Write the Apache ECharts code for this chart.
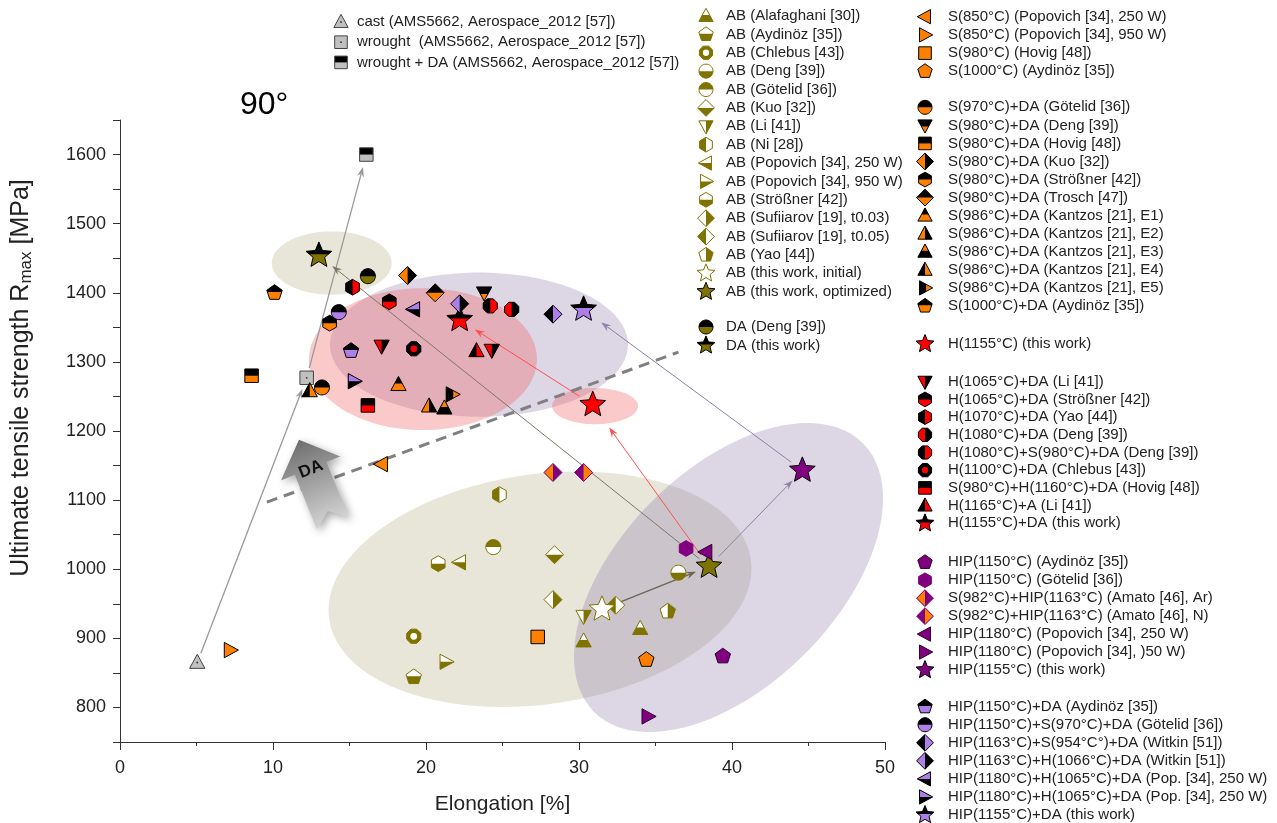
<!DOCTYPE html>
<html>
<head>
<meta charset="utf-8">
<title>Ultimate tensile strength vs. elongation, 90°</title>
<script src="https://cdn.jsdelivr.net/npm/echarts@6/dist/echarts.min.js"></script>
<style>
  html, body { margin: 0; padding: 0; background: #fff; }
  #chart { width: 1277px; height: 823px; }
</style>
</head>
<body>
<div id="chart"></div>
<script>
// ---------------------------------------------------------------
// Data: elongation [%] and ultimate tensile strength [MPa]
// ---------------------------------------------------------------
const xTickLabels = [0, 10, 20, 30, 40, 50];
const yTickLabels = [800, 900, 1000, 1100, 1200, 1300, 1400, 1500, 1600];

const refNames = ['cast (AMS5662, Aerospace_2012 [57])', 'wrought  (AMS5662, Aerospace_2012 [57])', 'wrought + DA (AMS5662, Aerospace_2012 [57])'];
const refValues = [[[5.05, 865]], [[12.2, 1277]], [[16.1, 1600]]];

const abNames = ['AB (Alafaghani [30])', 'AB (Aydinöz [35])', 'AB (Chlebus [43])', 'AB (Deng [39])', 'AB (Götelid [36])', 'AB (Kuo [32])', 'AB (Li [41])', 'AB (Ni [28])', 'AB (Popovich [34], 250 W)', 'AB (Popovich [34], 950 W)', 'AB (Strößner [42])', 'AB (Sufiiarov [19], t0.03)', 'AB (Sufiiarov [19], t0.05)', 'AB (Yao [44])', 'AB (this work, initial)', 'AB (this work, optimized)'];
const abValues = [[[34.0, 914], [30.3, 896]], [[19.2, 844]], [[19.2, 903]], [[36.5, 995]], [[24.4, 1032]], [[28.4, 1021]], [[30.3, 932]], [[24.8, 1108]], [[22.2, 1010]], [[21.3, 866]], [[20.8, 1008]], [[28.3, 956]], [[32.4, 948]], [[35.8, 939]], [[31.5, 942]], [[38.5, 1004]]];

const daNames = ['DA (Deng [39])', 'DA (this work)'];
const daValues = [[[16.2, 1424]], [[13.0, 1454]]];

const sNames = ['S(850°C) (Popovich [34], 250 W)', 'S(850°C) (Popovich [34], 950 W)', 'S(980°C) (Hovig [48])', 'S(1000°C) (Aydinöz [35])'];
const sValues = [[[17.1, 1152]], [[7.2, 883]], [[27.3, 902]], [[34.4, 869]]];

const sdaNames = ['S(970°C)+DA (Götelid [36])', 'S(980°C)+DA (Deng [39])', 'S(980°C)+DA (Hovig [48])', 'S(980°C)+DA (Kuo [32])', 'S(980°C)+DA (Strößner [42])', 'S(980°C)+DA (Trosch [47])', 'S(986°C)+DA (Kantzos [21], E1)', 'S(986°C)+DA (Kantzos [21], E2)', 'S(986°C)+DA (Kantzos [21], E3)', 'S(986°C)+DA (Kantzos [21], E4)', 'S(986°C)+DA (Kantzos [21], E5)', 'S(1000°C)+DA (Aydinöz [35])'];
const sdaValues = [[[13.2, 1263]], [[23.8, 1400]], [[8.6, 1280]], [[18.8, 1425]], [[13.7, 1356]], [[20.6, 1400]], [[18.2, 1267]], [[20.2, 1236]], [[21.2, 1233]], [[12.4, 1258]], [[21.7, 1253]], [[10.1, 1400]]];

const hNames = ['H(1155°C) (this work)'];
const hValues = [[[30.9, 1238]]];

const hdaNames = ['H(1065°C)+DA (Li [41])', 'H(1065°C)+DA (Strößner [42])', 'H(1070°C)+DA (Yao [44])', 'H(1080°C)+DA (Deng [39])', 'H(1080°C)+S(980°C)+DA (Deng [39])', 'H(1100°C)+DA (Chlebus [43])', 'S(980°C)+H(1160°C)+DA (Hovig [48])', 'H(1165°C)+A (Li [41])', 'H(1155°C)+DA (this work)'];
const hdaValues = [[[17.1, 1323], [24.3, 1317]], [[17.6, 1387]], [[15.2, 1408]], [[25.6, 1376]], [[24.2, 1381]], [[19.2, 1319]], [[16.2, 1237]], [[23.3, 1316]], [[22.2, 1361]]];

const hipNames = ['HIP(1150°C) (Aydinöz [35])', 'HIP(1150°C) (Götelid [36])', 'S(982°C)+HIP(1163°C) (Amato [46], Ar)', 'S(982°C)+HIP(1163°C) (Amato [46], N)', 'HIP(1180°C) (Popovich [34], 250 W)', 'HIP(1180°C) (Popovich [34], )50 W)', 'HIP(1155°C) (this work)'];
const hipValues = [[[39.4, 874]], [[37.0, 1030]], [[28.3, 1140]], [[30.3, 1140]], [[38.3, 1025]], [[34.5, 787]], [[44.6, 1143]]];

const hipdaNames = ['HIP(1150°C)+DA (Aydinöz [35])', 'HIP(1150°C)+S(970°C)+DA (Götelid [36])', 'HIP(1163°C)+S(954°C°)+DA (Witkin [51])', 'HIP(1163°C)+H(1066°C)+DA (Witkin [51])', 'HIP(1180°C)+H(1065°C)+DA (Pop. [34], 250 W)', 'HIP(1180°C)+H(1065°C)+DA (Pop. [34], 250 W)', 'HIP(1155°C)+DA (this work)'];
const hipdaValues = [[[15.1, 1316]], [[14.3, 1372]], [[28.3, 1369]], [[22.2, 1384]], [[19.2, 1376]], [[15.3, 1272]], [[30.3, 1376]]];

// Process routes of this work (from -> to)
const transitions = [
  ['cast (AMS5662, Aerospace_2012 [57])', 'wrought  (AMS5662, Aerospace_2012 [57])'],
  ['wrought  (AMS5662, Aerospace_2012 [57])', 'wrought + DA (AMS5662, Aerospace_2012 [57])'],
  ['AB (this work, initial)', 'AB (this work, optimized)'],
  ['AB (this work, optimized)', 'DA (this work)'],
  ['AB (this work, optimized)', 'H(1155°C) (this work)'],
  ['H(1155°C) (this work)', 'H(1155°C)+DA (this work)'],
  ['AB (this work, optimized)', 'HIP(1155°C) (this work)'],
  ['HIP(1155°C) (this work)', 'HIP(1155°C)+DA (this work)']
];

// ---------------------------------------------------------------
// Annotation geometry (data units) and styles
// ---------------------------------------------------------------
const zoneCenters = [[27.45, 971], [39.77, 988], [23.46, 1325], [19.8, 1304], [31.05, 1236], [13.84, 1443]];
const zoneRadii = [[13.92, 7.52], [12.42, 7.06], [9.74, 4.71], [7.45, 4.64], [2.81, 1.18], [3.92, 2.07]];
const zoneTilt = [8, 45, 0, 0, 0, 0];
const BEIGE = 'rgba(180,170,130,0.30)', LILAC = 'rgba(150,130,175,0.33)', PINK = 'rgba(240,100,100,0.35)';
const zoneFill = [BEIGE, LILAC, LILAC, PINK, PINK, BEIGE];

const guideLine = [[9.6, 1097, 36.5, 1314]];
const daArrowAt = [[12.8, 1127]];

const arrowGap = [[10, 12], [10, 13], [12, 14], [12, 17], [14, 28], [16, 18], [14, 14], [14, 22]];
const arrowColor = ['#9a9a9a', '#9a9a9a', '#6b6656', '#7c7866', '#ff5050', '#ff5050', '#8c82aa', '#8c82aa'];
const arrowWidth = [1.3, 1.3, 1.5, 1, 1, 1, 1, 1];

const FONT = "'Liberation Sans', Arial, sans-serif";
const O = '#7f7300', OR = '#ff7f00', R = '#ff0000', P = '#800080', L = '#b07ee8', K = '#000000', W = '#ffffff', G = '#c0c0c0';
const ST = (shape, fill, half, side, stroke, extra) => Object.assign({ shape, fill, half, side, stroke }, extra || {});

const refStyle = [ST('tri', G, null, null, '#444', { dot: true }), ST('square', G, null, null, '#444', { dot: true }), ST('square', G, K, 'top', '#444')];
const abStyle = [
  ST('tri', W, O, 'bottom', O), ST('pent', W, O, 'bottom', O), ST('oct', O, null, null, O, { ring: W }),
  ST('circle', W, O, 'bottom', O), ST('circle', W, O, 'top', O), ST('diamond', W, O, 'bottom', O),
  ST('tridown', W, O, 'right', O), ST('hex', W, O, 'left', O), ST('trileft', W, O, 'bottom', O),
  ST('triright', W, O, 'bottom', O), ST('hex', W, O, 'bottom', O), ST('diamond', W, O, 'right', O),
  ST('diamond', W, O, 'left', O), ST('pent', W, O, 'right', O), ST('star', W, null, null, O),
  ST('star', O, null, null, K)
];
const daStyle = [ST('circle', O, K, 'top', K), ST('star', O, K, 'top', K)];
const sStyle = [ST('trileft', OR, null, null, K), ST('triright', OR, null, null, K), ST('square', OR, null, null, K), ST('pent', OR, null, null, K)];
const sdaStyle = [
  ST('circle', OR, K, 'top', K), ST('tridown', OR, K, 'top', K), ST('square', OR, K, 'top', K),
  ST('diamond', OR, K, 'right', K), ST('hex', OR, K, 'top', K), ST('diamond', OR, K, 'top', K),
  ST('tri', OR, K, 'top', K), ST('tri', OR, K, 'right', K), ST('tri', K, OR, 'top', K),
  ST('tri', OR, K, 'left', K), ST('triright', OR, K, 'left', K), ST('pent', OR, K, 'top', K)
];
const hStyle = [ST('star', R, null, null, K)];
const hdaStyle = [
  ST('tridown', R, K, 'right', K), ST('hex', R, K, 'top', K), ST('hex', R, K, 'left', K),
  ST('oct', K, R, 'left', K), ST('oct', R, K, 'left', K), ST('oct', K, null, null, K, { ring: R }),
  ST('square', R, K, 'top', K), ST('tri', R, K, 'left', K), ST('star', R, K, 'top', K)
];
const hipStyle = [
  ST('pent', P, null, null, '#2a002a'), ST('hex', P, null, null, P), ST('diamond', P, OR, 'left', P),
  ST('diamond', P, OR, 'right', P), ST('trileft', P, null, null, '#2a002a'), ST('triright', P, null, null, '#2a002a'),
  ST('star', P, null, null, K)
];
const hipdaStyle = [
  ST('pent', L, K, 'top', K), ST('circle', L, K, 'top', K), ST('diamond', L, K, 'left', K),
  ST('diamond', L, K, 'right', K), ST('trileft', K, L, 'top', K), ST('triright', K, L, 'top', K),
  ST('star', L, K, 'top', K)
];

const groups = [
  [refNames, refValues, refStyle], [abNames, abValues, abStyle], [daNames, daValues, daStyle],
  [sNames, sValues, sStyle], [sdaNames, sdaValues, sdaStyle], [hNames, hValues, hStyle],
  [hdaNames, hdaValues, hdaStyle], [hipNames, hipValues, hipStyle], [hipdaNames, hipdaValues, hipdaStyle]
];

// Legend layout: [names, styles, iconX, textX, firstRowY, rowStep]
const legendBlocks = [
  [refNames, refStyle, 341, 357, 22, 20.2],
  [abNames, abStyle, 706, 726, 16, 18.38],
  [daNames, daStyle, 706, 726, 327, 18.4],
  [sNames, sStyle, 925, 948, 16.7, 18.2],
  [sdaNames, sdaStyle, 925, 948, 107.3, 18.06],
  [hNames, hStyle, 925, 948, 344, 18],
  [hdaNames, hdaStyle, 925, 948, 381.7, 17.7],
  [hipNames, hipStyle, 925, 948, 562.3, 17.95],
  [hipdaNames, hipdaStyle, 925, 948, 706.7, 18.05]
];

// ---------------------------------------------------------------
// Marker geometry: polygons with optional half fill
// ---------------------------------------------------------------
function regular(n, rad, start) {
  const pts = [];
  for (let i = 0; i < n; i++) {
    const a = start + i * 2 * Math.PI / n;
    pts.push([rad * Math.cos(a), rad * Math.sin(a)]);
  }
  return pts;
}
function basePoints(shape, r, starScale) {
  switch (shape) {
    case 'circle': return regular(36, r, 0);
    case 'square': { const s = r * 0.9; return [[-s, -s], [s, -s], [s, s], [-s, s]]; }
    case 'diamond': { const d = r * 1.2; return [[0, -d], [d, 0], [0, d], [-d, 0]]; }
    case 'tri': return [[0, -1.1 * r], [1.02 * r, 0.78 * r], [-1.02 * r, 0.78 * r]];
    case 'tridown': return [[0, 1.1 * r], [1.02 * r, -0.78 * r], [-1.02 * r, -0.78 * r]];
    case 'trileft': return [[-1.1 * r, 0], [0.78 * r, -1.02 * r], [0.78 * r, 1.02 * r]];
    case 'triright': return [[1.1 * r, 0], [-0.78 * r, -1.02 * r], [-0.78 * r, 1.02 * r]];
    case 'pent': return regular(5, 1.08 * r, -Math.PI / 2);
    case 'hex': return regular(6, 1.05 * r, -Math.PI / 2);
    case 'oct': return regular(8, 1.02 * r, -Math.PI / 2 + Math.PI / 8);
    case 'star': {
      const R0 = r * starScale, pts = [];
      for (let i = 0; i < 10; i++) {
        const rad = i % 2 === 0 ? R0 : R0 * 0.45;
        const a = -Math.PI / 2 + i * Math.PI / 5;
        pts.push([rad * Math.cos(a), rad * Math.sin(a)]);
      }
      return pts;
    }
  }
  return regular(36, r, 0);
}
function clipHalf(pts, side) {
  const xs = pts.map(p => p[0]), ys = pts.map(p => p[1]);
  const mx = (Math.min(...xs) + Math.max(...xs)) / 2;
  const my = (Math.min(...ys) + Math.max(...ys)) / 2;
  const inside = p => side === 'top' ? p[1] <= my : side === 'bottom' ? p[1] >= my : side === 'left' ? p[0] <= mx : p[0] >= mx;
  const cut = (a, b) => {
    const t = (side === 'top' || side === 'bottom') ? (my - a[1]) / (b[1] - a[1]) : (mx - a[0]) / (b[0] - a[0]);
    return [a[0] + t * (b[0] - a[0]), a[1] + t * (b[1] - a[1])];
  };
  const out = [];
  for (let i = 0; i < pts.length; i++) {
    const cur = pts[i], prev = pts[(i + pts.length - 1) % pts.length];
    if (inside(cur)) {
      if (!inside(prev)) out.push(cut(prev, cur));
      out.push(cur);
    } else if (inside(prev)) {
      out.push(cut(prev, cur));
    }
  }
  return out;
}
function markerChildren(cx, cy, spec, r, starScale) {
  const pts = basePoints(spec.shape, r, starScale).map(p => [p[0] + cx, p[1] + cy]);
  const kids = [{ type: 'polygon', shape: { points: pts }, style: { fill: spec.fill } }];
  if (spec.half) kids.push({ type: 'polygon', shape: { points: clipHalf(pts, spec.side) }, style: { fill: spec.half } });
  if (spec.ring) kids.push({ type: 'circle', shape: { cx: cx, cy: cy, r: r * 0.45 }, style: { fill: spec.ring } });
  if (spec.dot) kids.push({ type: 'circle', shape: { cx: cx, cy: cy, r: 0.9 }, style: { fill: '#333' } });
  kids.push({ type: 'polygon', shape: { points: pts }, style: { fill: 'none', stroke: spec.stroke, lineWidth: 1 } });
  return kids;
}

function pointOf(name) {
  for (const g of groups) {
    const i = g[0].indexOf(name);
    if (i >= 0) return g[1][i][0];
  }
  return null;
}

// ---------------------------------------------------------------
// Series
// ---------------------------------------------------------------
const series = [];

// shaded regions
series.push({
  type: 'custom', name: 'regions', coordinateSystem: 'cartesian2d', silent: true, clip: false, z: 1,
  data: zoneCenters.map((c, i) => [c[0], c[1], i]),
  encode: { x: 0, y: 1 },
  renderItem: function (params, api) {
    const i = api.value(2);
    const c = api.coord([api.value(0), api.value(1)]);
    const a = api.size([zoneRadii[i][0], 0])[0];
    const b = api.size([zoneRadii[i][1], 0])[0];
    const th = zoneTilt[i] * Math.PI / 180;
    const pts = [];
    for (let k = 0; k < 90; k++) {
      const t = k * 2 * Math.PI / 90;
      const x = a * Math.cos(t), y = b * Math.sin(t);
      pts.push([c[0] + x * Math.cos(th) + y * Math.sin(th), c[1] - x * Math.sin(th) + y * Math.cos(th)]);
    }
    return { type: 'polygon', shape: { points: pts }, style: { fill: zoneFill[i] } };
  }
});

// dashed separation line
series.push({
  type: 'custom', name: 'guide', coordinateSystem: 'cartesian2d', silent: true, clip: false, z: 2,
  data: guideLine, encode: { x: [0, 2], y: [1, 3] },
  renderItem: function (params, api) {
    const a = api.coord([api.value(0), api.value(1)]);
    const b = api.coord([api.value(2), api.value(3)]);
    return { type: 'line', shape: { x1: a[0], y1: a[1], x2: b[0], y2: b[1] }, style: { stroke: '#808080', lineWidth: 3, lineDash: [11, 7] } };
  }
});

// "DA" block arrow
series.push({
  type: 'custom', name: 'DA', coordinateSystem: 'cartesian2d', silent: true, clip: false, z: 2,
  data: daArrowAt, encode: { x: 0, y: 1 },
  renderItem: function (params, api) {
    const c = api.coord([api.value(0), api.value(1)]);
    const shape = [[0, -45], [32, -14], [17, -14], [17, 45], [0, 32], [-17, 45], [-17, -14], [-32, -14]];
    return {
      type: 'group', x: c[0], y: c[1], rotation: 22 * Math.PI / 180,
      children: [
        {
          type: 'polygon', shape: { points: shape },
          style: {
            fill: { type: 'linear', x: 0, y: 0, x2: 0, y2: 1, colorStops: [{ offset: 0, color: '#6e6e6e' }, { offset: 1, color: '#d4d4d4' }] },
            shadowBlur: 8, shadowColor: 'rgba(0,0,0,0.35)', shadowOffsetX: 3, shadowOffsetY: 3
          }
        },
        {
          type: 'text', x: 0, y: -13,
          style: { text: 'DA', fill: '#111', font: 'bold 17px ' + FONT, align: 'center', verticalAlign: 'middle', textAlign: 'center', textVerticalAlign: 'middle' }
        }
      ]
    };
  }
});

// process arrows
series.push({
  type: 'custom', name: 'routes', coordinateSystem: 'cartesian2d', silent: true, clip: false, z: 3,
  data: transitions.map((t, i) => { const a = pointOf(t[0]), b = pointOf(t[1]); return [a[0], a[1], b[0], b[1], i]; }),
  encode: { x: [0, 2], y: [1, 3] },
  renderItem: function (params, api) {
    const i = api.value(4);
    const a = api.coord([api.value(0), api.value(1)]);
    const b = api.coord([api.value(2), api.value(3)]);
    const dx = b[0] - a[0], dy = b[1] - a[1], len = Math.hypot(dx, dy);
    const ux = dx / len, uy = dy / len;
    const p0 = [a[0] + ux * arrowGap[i][0], a[1] + uy * arrowGap[i][0]];
    const p1 = [b[0] - ux * arrowGap[i][1], b[1] - uy * arrowGap[i][1]];
    const back = 10, half = 3.6, notch = 6.5;
    const left = [p1[0] - ux * back - uy * half, p1[1] - uy * back + ux * half];
    const right = [p1[0] - ux * back + uy * half, p1[1] - uy * back - ux * half];
    const mid = [p1[0] - ux * notch, p1[1] - uy * notch];
    return {
      type: 'group', children: [
        { type: 'line', shape: { x1: p0[0], y1: p0[1], x2: mid[0], y2: mid[1] }, style: { stroke: arrowColor[i], lineWidth: arrowWidth[i] } },
        { type: 'polygon', shape: { points: [p1, left, mid, right] }, style: { fill: arrowColor[i] } }
      ]
    };
  }
});

// measured points, one series per source
groups.forEach(function (g) {
  g[0].forEach(function (name, i) {
    const spec = g[2][i];
    series.push({
      type: 'custom', name: name, coordinateSystem: 'cartesian2d', silent: true, clip: false, z: 5,
      data: g[1][i], encode: { x: 0, y: 1 },
      renderItem: function (params, api) {
        const p = api.coord([api.value(0), api.value(1)]);
        return { type: 'group', children: markerChildren(p[0], p[1], spec, 7.5, 1.8) };
      }
    });
  });
});

// ---------------------------------------------------------------
// Legend (drawn as graphic elements)
// ---------------------------------------------------------------
const graphics = [];
legendBlocks.forEach(function (blk) {
  const names = blk[0], styles = blk[1];
  names.forEach(function (name, i) {
    const y = blk[4] + i * blk[5];
    graphics.push({ type: 'group', silent: true, children: markerChildren(blk[2], y, styles[i], 7, 1.35) });
    graphics.push({
      type: 'text', x: blk[3], y: y, silent: true,
      style: { text: name, fill: '#222', font: '15px ' + FONT, align: 'left', verticalAlign: 'middle', textAlign: 'left', textVerticalAlign: 'middle' }
    });
  });
});
// y-axis title with subscript
graphics.push({
  type: 'text', x: 21, y: 378, rotation: Math.PI / 2, silent: true,
  style: {
    text: '{a|Ultimate tensile strength R}{s|max}{a| [MPa]}',
    align: 'center', verticalAlign: 'middle', textAlign: 'center', textVerticalAlign: 'middle',
    rich: {
      a: { fontSize: 25, fontFamily: FONT, fill: '#222', color: '#222' },
      s: { fontSize: 17, fontFamily: FONT, fill: '#222', color: '#222', padding: [10, 0, 0, 0] }
    }
  }
});

// ---------------------------------------------------------------
const chart = echarts.init(document.getElementById('chart'));
chart.setOption({
  animation: false,
  backgroundColor: '#ffffff',
  title: {
    text: '90°', left: 235, top: 84,
    textStyle: { fontSize: 32, fontWeight: 'normal', color: '#000', fontFamily: FONT }
  },
  grid: { left: 120, right: 392, top: 120, bottom: 81, containLabel: false, outerBoundsMode: 'none' },
  xAxis: {
    type: 'value', min: 0, max: 50, interval: 10,
    name: 'Elongation [%]', nameLocation: 'middle', nameGap: 52,
    nameTextStyle: { fontSize: 21, color: '#222', fontFamily: FONT },
    axisLine: { show: true, lineStyle: { color: '#333', width: 1 } },
    axisTick: { show: true, inside: false, length: 8, lineStyle: { color: '#333' } },
    minorTick: { show: true, splitNumber: 2, length: 4, lineStyle: { color: '#333' } },
    splitLine: { show: false },
    axisLabel: {
      fontSize: 18, color: '#222', fontFamily: FONT, margin: 17,
      formatter: v => xTickLabels.indexOf(v) >= 0 ? String(v) : ''
    }
  },
  yAxis: {
    type: 'value', min: 750, max: 1650, interval: 50,
    axisLine: { show: true, lineStyle: { color: '#333', width: 1 } },
    axisTick: { show: true, inside: false, length: 7, lineStyle: { color: '#333' } },
    splitLine: { show: false },
    axisLabel: {
      fontSize: 18, color: '#222', fontFamily: FONT, margin: 14,
      formatter: v => yTickLabels.indexOf(v) >= 0 ? String(v) : ''
    }
  },
  graphic: { elements: graphics },
  series: series
});
</script>
</body>
</html>
